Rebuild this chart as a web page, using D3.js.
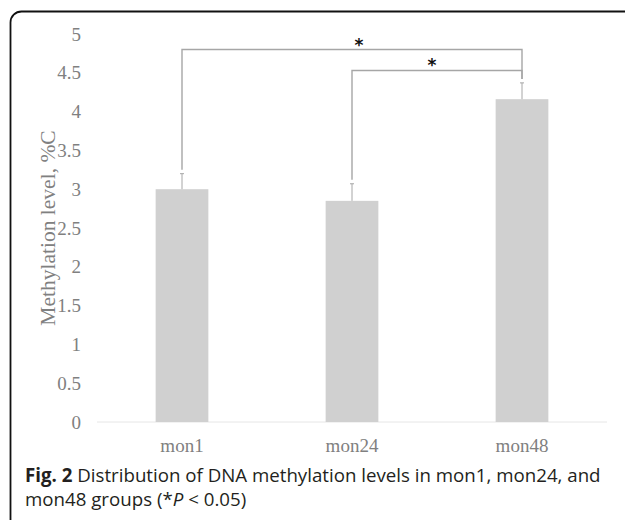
<!DOCTYPE html>
<html>
<head>
<meta charset="utf-8">
<script src="https://cdn.jsdelivr.net/npm/d3@7"></script>
<style>
  html, body { margin: 0; padding: 0; background: #fff; }
  svg { display: block; }
  .serif { font-family: "Liberation Serif", "Times New Roman", serif; }
</style>
</head>
<body>
<svg id="chart" width="625" height="520"></svg>
<script>
const groups= ['mon1', 'mon24', 'mon48'];
const means= [3.0, 2.85, 4.16];
const errs= [0.2, 0.22, 0.21];
const yTicks= [0, 0.5, 1, 1.5, 2, 2.5, 3, 3.5, 4, 4.5, 5];
// significance brackets: [from, to, level]
const brackets= [['mon1', 'mon48', 4.8], ['mon24', 'mon48', 4.53]];

const svg= d3.select('#chart');
const W= 625, H= 520;
const m= {left: 97, right: 18, top: 34, bottom: 98};

// panel frame, only the top-left corner is in view
svg.append('rect')
  .attr('x', 10.5).attr('y', 11.5)
  .attr('width', W+40).attr('height', H+40)
  .attr('rx', 11)
  .attr('fill', 'none').attr('stroke', '#111').attr('stroke-width', 1.8);

const x= d3.scaleBand().domain(groups).range([m.left, W-m.right]).paddingInner(0.69).paddingOuter(0.345);
const y= d3.scaleLinear().domain([0, 5]).range([H-m.bottom, m.top]);

const g= svg.append('g');

// y axis labels
const yAx= g.append('g')
  .attr('transform', `translate(${m.left},0)`)
  .call(d3.axisLeft(y).tickValues(yTicks).tickSize(0).tickPadding(16).tickFormat(d3.format('')));
yAx.select('.domain').remove();
yAx.selectAll('text')
  .attr('class', 'serif')
  .style('font-family', '"Liberation Serif", "Times New Roman", serif')
  .style('font-size', '19px').attr('fill', '#808080');

// baseline
g.append('line')
  .attr('x1', m.left).attr('x2', W-m.right)
  .attr('y1', y(0)).attr('y2', y(0))
  .attr('stroke', '#e6e6e6').attr('stroke-width', 1);

// bars
g.selectAll('rect.bar').data(groups).join('rect')
  .attr('class', 'bar')
  .attr('x', d => x(d)).attr('width', x.bandwidth())
  .attr('y', (d, i) => y(means[i]))
  .attr('height', (d, i) => y(0)-y(means[i]))
  .attr('fill', '#d0d0d0');

// error bars (upper only)
const cx= d => x(d)+x.bandwidth()/2;
g.selectAll('line.err').data(groups).join('line')
  .attr('class', 'err')
  .attr('x1', cx).attr('x2', cx)
  .attr('y1', (d, i) => y(means[i])).attr('y2', (d, i) => y(means[i]+errs[i]))
  .attr('stroke', '#a6a6a6').attr('stroke-width', 1);
g.selectAll('line.cap').data(groups).join('line')
  .attr('class', 'cap')
  .attr('x1', d => cx(d)-2).attr('x2', d => cx(d)+2)
  .attr('y1', (d, i) => y(means[i]+errs[i])).attr('y2', (d, i) => y(means[i]+errs[i]))
  .attr('stroke', '#a6a6a6').attr('stroke-width', 1);

// brackets
brackets.forEach(([a, b, lvl]) => {
  const ia= groups.indexOf(a), ib= groups.indexOf(b);
  const ya= y(means[ia]+errs[ia])-4, yb= y(means[ib]+errs[ib])-4;
  g.append('path')
    .attr('d', `M${cx(a)},${ya}V${y(lvl)}H${cx(b)}V${yb}`)
    .attr('fill', 'none').attr('stroke', '#a6a6a6').attr('stroke-width', 1.4);
});
const starX= [359, 432];
brackets.forEach(([a, b, lvl], i) => {
  g.append('text')
    .attr('x', starX[i]).attr('y', y(lvl)+1)
    .attr('text-anchor', 'middle')
    .attr('font-family', 'DejaVu Sans, sans-serif').attr('font-size', 17).attr('font-weight', 'bold')
    .attr('fill', '#111')
    .text('*');
});

// x labels
g.selectAll('text.cat').data(groups).join('text')
  .attr('class', 'cat serif')
  .attr('x', cx).attr('y', y(0)+30)
  .attr('text-anchor', 'middle')
  .attr('font-size', 19).attr('fill', '#808080')
  .text(d => d);

// y title
g.append('text')
  .attr('class', 'serif')
  .attr('transform', `translate(55,${(y(0)+y(5))/2}) rotate(-90)`)
  .attr('text-anchor', 'middle')
  .attr('font-size', 21.5).attr('fill', '#808080')
  .text('Methylation level, %C');

// caption
const cap= svg.append('text')
  .attr('font-family', 'Open Sans, sans-serif').attr('font-size', 18.7).attr('fill', '#231f20');
const l1= cap.append('tspan').attr('x', 25).attr('y', 482);
l1.append('tspan').attr('font-weight', 'bold').text('Fig. 2');
l1.append('tspan').text(' Distribution of DNA methylation levels in mon1, mon24, and');
const l2= cap.append('tspan').attr('x', 25).attr('y', 506);
l2.append('tspan').text('mon48 groups (*');
l2.append('tspan').attr('font-style', 'italic').text('P');
l2.append('tspan').text(' < 0.05)');
</script>
</body>
</html>
